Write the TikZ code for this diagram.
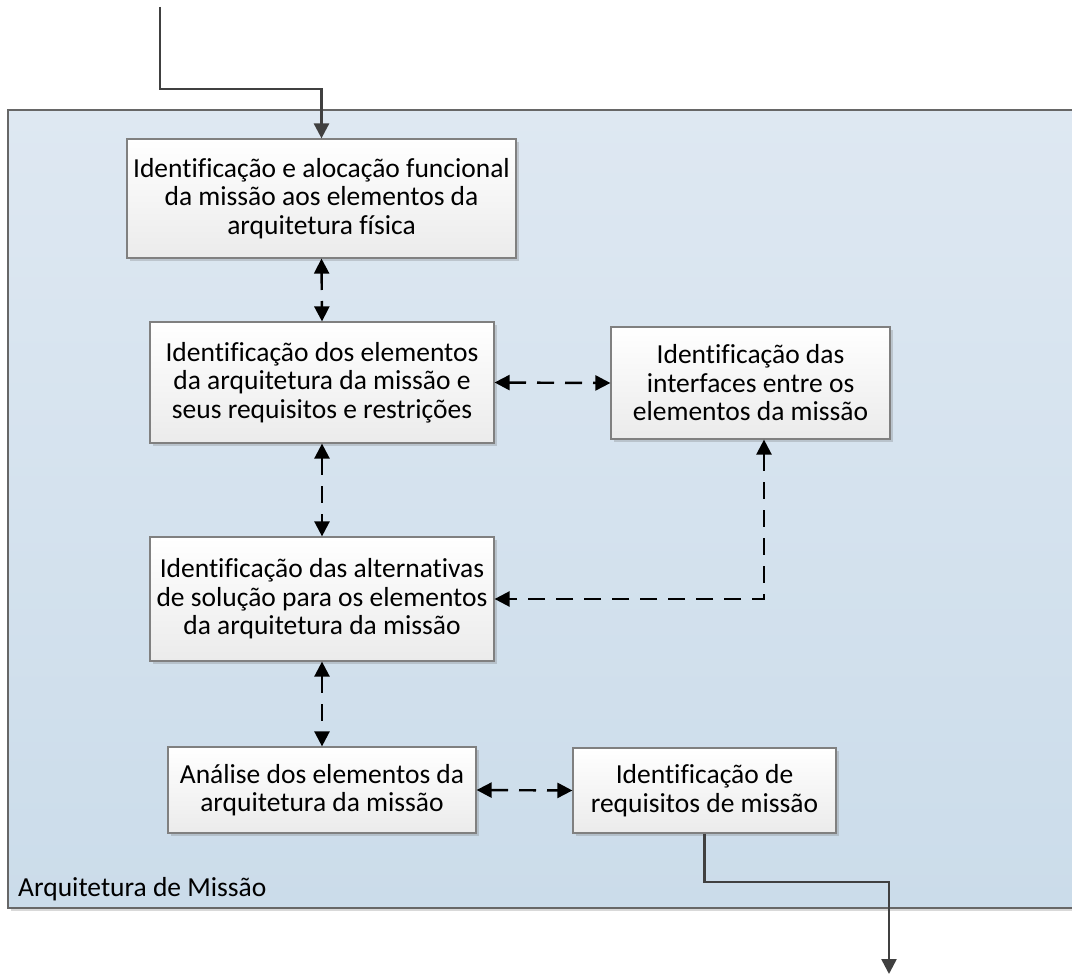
\documentclass[tikz,border=0pt]{standalone}
\usepackage{fontspec}
\setmainfont[Ligatures=NoCommon]{Carlito}
\usetikzlibrary{arrows.meta,shadows,calc}
\definecolor{contTop}{HTML}{DEE8F2}
\definecolor{contBot}{HTML}{CBDCEA}
\definecolor{boxBot}{HTML}{EBEBEB}
\definecolor{boxEdge}{HTML}{808080}
\definecolor{flowLine}{HTML}{404040}
\newcommand{\boxfont}{\fontsize{27.5}{28.5}\selectfont}
\tikzset{
  procbox/.style={draw=boxEdge, line width=1.2pt, top color=white, bottom color=boxBot,
    align=center, inner sep=0pt, font=\boxfont,
    drop shadow={shadow xshift=3pt, shadow yshift=-3pt, opacity=0.25, fill=black!60}},
  link/.style={line width=2.4pt, dash pattern=on 17pt off 11pt,
    {Triangle[length=15pt,width=15pt]}-{Triangle[length=15pt,width=15pt]}},
  flow/.style={draw=flowLine, line width=2.6pt, -{Triangle[length=15pt,width=15pt]}, color=flowLine},
}
\begin{document}
\begin{tikzpicture}[x=1pt,y=-1pt]
\useasboundingbox (0,0) rectangle (1072,974);
% container
\fill[black!60, opacity=0.25] (11,113) rectangle (1090,911);
\draw[boxEdge!80!black, line width=1.2pt, top color=contTop, bottom color=contBot] (8,110) rectangle (1085,908);
\node[anchor=base west, font=\boxfont, inner sep=0pt] (label) at (18,896) {Arquitetura de Missão};
% boxes
\node[procbox, minimum width=389pt, minimum height=119pt] (b1) at (321.5,198.5)
  {Identificação e alocação funcional\\da missão aos elementos da\\arquitetura física};
\node[procbox, minimum width=344pt, minimum height=121pt] (b2) at (322,382.5)
  {Identificação dos elementos\\da arquitetura da missão e\\seus requisitos e restrições};
\node[procbox, minimum width=279pt, minimum height=112pt] (b3) at (750.5,383)
  {Identificação das\\interfaces entre os\\elementos da missão};
\node[procbox, minimum width=344pt, minimum height=124pt] (b4) at (322,599)
  {Identificação das alternativas\\de solução para os elementos\\da arquitetura da missão};
\node[procbox, minimum width=308pt, minimum height=86pt] (b5) at (322,790)
  {Análise dos elementos da\\arquitetura da missão};
\node[procbox, minimum width=263pt, minimum height=85pt] (b6) at (704.5,790.5)
  {Identificação de\\requisitos de missão};
% dashed links
\draw[link] (b1.south) -- (b2.north);
\draw[link] (b2.east) -- (b3.west);
\draw[link] (b2.south) -- (b4.north);
\draw[link] ([xshift=13.5pt]b3.south) |- (b4.east);
\draw[link] (b4.south) -- (b5.north);
\draw[link] (b5.east) -- (b6.west);
% input / output
\coordinate (in) at (160,7);
\coordinate (inbend) at (160,89);
\coordinate (outbend) at (704.5,882);
\coordinate (out) at (889,974);
\draw[flow] (in) -- (inbend) -| (b1.north);
\draw[flow] (b6.south) -- (outbend) -| (out);
\end{tikzpicture}
\end{document}
